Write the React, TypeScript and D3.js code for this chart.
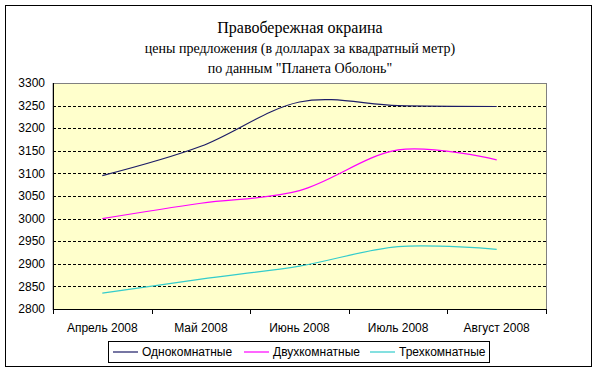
import React from 'react';
import * as d3 from 'd3';

// months on the x axis
const months = ['Апрель 2008', 'Май 2008', 'Июнь 2008', 'Июль 2008', 'Август 2008'];

// price per square metre, USD
const oneRoom = [3095, 3160, 3258, 3250, 3248];
const twoRoom = [3000, 3034, 3062, 3152, 3130];
const threeRoom = [2835, 2866, 2895, 2938, 2932];

const seriesNames = ['Однокомнатные', 'Двухкомнатные', 'Трехкомнатные'];
const yTicks = [2800, 2850, 2900, 2950, 3000, 3050, 3100, 3150, 3200, 3250, 3300];

const titleLines = [
    'Правобережная окраина',
    'цены предложения (в долларах за квадратный метр)',
    'по данным "Планета Оболонь"',
];

const colors = ['#1c1c66', '#ff00ff', '#33cccc'];

function App() {
    const width = 600;
    const height = 373;
    const plot = { left: 53, right: 546, top: 83, bottom: 309 };

    const x = d3.scaleBand().domain(months).range([plot.left, plot.right]);
    const y = d3.scaleLinear().domain([2800, 3300]).range([plot.bottom, plot.top]);

    const line = d3
        .line<number>()
        .x((_, i) => (x(months[i]) as number) + x.bandwidth() / 2)
        .y((d) => y(d))
        .curve(d3.curveCardinal.tension(0));

    const series = [oneRoom, twoRoom, threeRoom];
    const legendX = [113, 244, 370];
    const sans = 'Arial, "Liberation Sans", sans-serif';
    const serif = '"Times New Roman", "Liberation Serif", serif';

    return (
        <svg width={width} height={height} style={{ position: 'absolute', left: 0, top: 0, background: '#fff' }}>
            <rect x={5.5} y={5.5} width={586} height={361} fill="#fff" stroke="#000" />

            {/* title */}
            {titleLines.map((t, i) => (
                <text
                    key={t}
                    x={300}
                    y={[33, 53, 73][i]}
                    textAnchor="middle"
                    fontFamily={serif}
                    fontSize={i === 0 ? 16 : 14}
                    fill="#000"
                >
                    {t}
                </text>
            ))}

            {/* plot area */}
            <rect
                x={plot.left}
                y={plot.top + 0.5}
                width={plot.right - plot.left + 0.5}
                height={plot.bottom - plot.top}
                fill="#ffffcc"
                stroke="#808080"
            />

            {/* gridlines */}
            {yTicks.slice(1, -1).map((t) => (
                <line
                    key={t}
                    x1={plot.left}
                    x2={plot.right}
                    y1={Math.round(y(t)) + 0.5}
                    y2={Math.round(y(t)) + 0.5}
                    stroke="#000"
                    strokeDasharray="3,2"
                />
            ))}

            {/* axes */}
            <line x1={plot.left + 0.5} x2={plot.left + 0.5} y1={plot.top} y2={plot.bottom + 1} stroke="#000" />
            <line x1={plot.left} x2={plot.right + 1} y1={plot.bottom + 0.5} y2={plot.bottom + 0.5} stroke="#000" />
            {d3.range(months.length + 1).map((i) => {
                const tx = Math.round(plot.left + i * x.step()) + 0.5;
                return <line key={i} x1={tx} x2={tx} y1={plot.bottom} y2={plot.bottom + 5} stroke="#000" />;
            })}

            {yTicks.map((t) => (
                <text key={t} x={45} y={y(t)} dy="0.35em" textAnchor="end" fontFamily={sans} fontSize={12} fill="#000">
                    {t}
                </text>
            ))}
            {months.map((m) => (
                <text
                    key={m}
                    x={(x(m) as number) + x.bandwidth() / 2}
                    y={332}
                    textAnchor="middle"
                    fontFamily={sans}
                    fontSize={12}
                    fill="#000"
                >
                    {m}
                </text>
            ))}

            {/* series */}
            {series.map((s, i) => (
                <path key={i} d={line(s) || ''} fill="none" stroke={colors[i]} strokeWidth={1.2} />
            ))}

            {/* legend */}
            <rect x={108.5} y={341.5} width={381} height={21} fill="#fff" stroke="#000" />
            {seriesNames.map((n, i) => (
                <g key={n}>
                    <line x1={legendX[i]} x2={legendX[i] + 25} y1={352} y2={352} stroke={colors[i]} strokeWidth={1.2} />
                    <text x={legendX[i] + 29} y={352} dy="0.35em" fontFamily={sans} fontSize={12} fill="#000">
                        {n}
                    </text>
                </g>
            ))}
        </svg>
    );
}

export default App;
